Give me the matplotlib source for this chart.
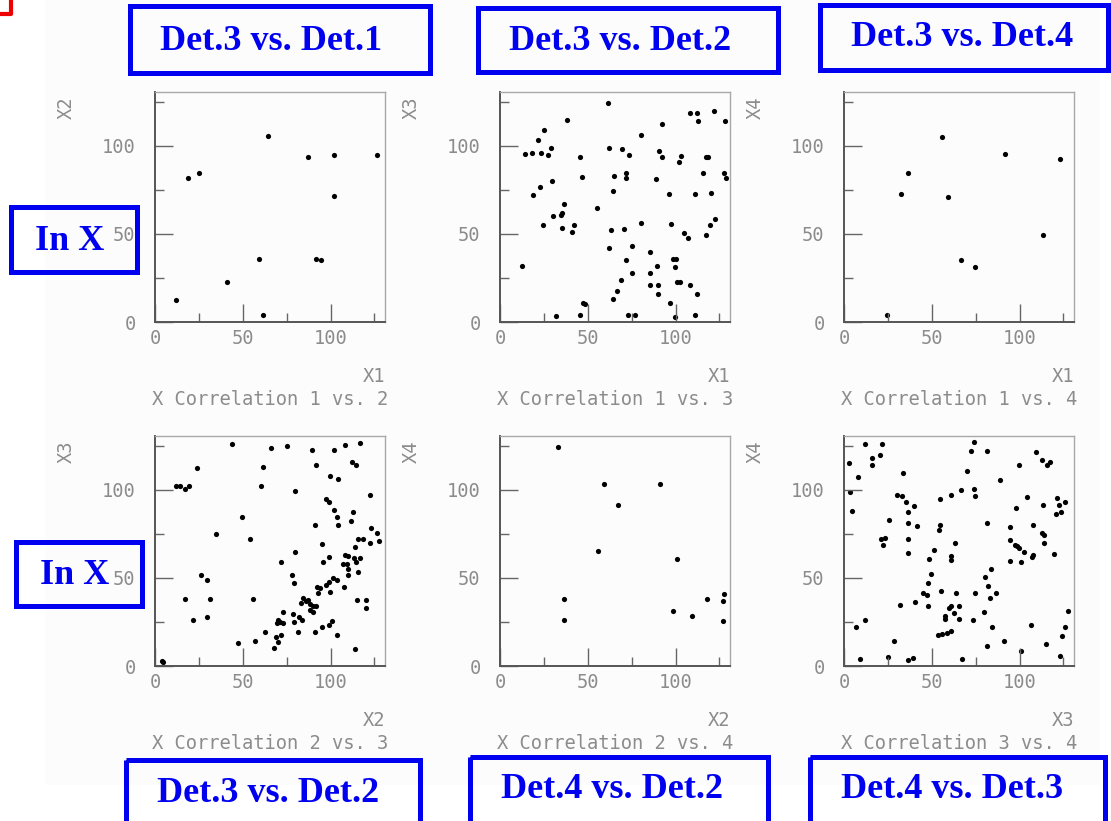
"""
X correlation scatter panels (ROOT-style) with blue detector-pair annotations.
"""

import matplotlib
matplotlib.use("Agg")
import matplotlib.pyplot as plt
from matplotlib.patches import Rectangle

# ---- data ----
p1_x = [12, 18.8, 24.9, 41, 59, 61.7, 64.5, 87.3, 91.8, 94.3, 102, 102, 126.4]
p1_y = [12.2, 81.6, 84.4, 22.7, 35.7, 4.1, 105.5, 93.8, 35.7, 35.2, 94.7, 71.4, 94.5]

p2_x = [61.6, 108.2, 112.4, 112.8, 121.8, 128.1, 38, 92, 80.3, 24.9, 21.4, 14, 18.5,
        23.1, 27.3, 29.3, 45.5, 61.8, 69.4, 73.6, 90.6, 92.2, 103, 102.1, 117.2, 118.5,
        29.4, 46.7, 64.8, 71.7, 71.9, 88.9, 115.7, 127.5, 128.5, 22.6, 18.7, 64.1, 96.4,
        111.3, 120.3, 36.3, 35.2, 34.6, 30.4, 55.4, 24.7, 35.2, 42.4, 41.1, 63.1, 70.6,
        80.3, 97.5, 104.6, 107.1, 117.4, 119.7, 122.4, 12.6, 62, 75.1, 85.7, 71.9, 98.5,
        100, 89.3, 99.6, 85.7, 75.3, 69, 85.7, 90.2, 101, 102.3, 108, 66.7, 64.6, 90.1,
        112.4, 96.6, 47.4, 48.2, 31.9, 45.7, 72.8, 76.7, 99.6, 111.3]
p2_y = [124, 118.4, 118.4, 114.3, 119.7, 113.9, 114.8, 112.4, 106.2, 108.8, 103.2, 95.1, 96,
        96, 94.9, 98.9, 93.4, 98.9, 97.9, 94.7, 97, 93.4, 94, 90.8, 93.6, 93.6,
        80, 82, 82.7, 84.6, 81.6, 81, 84.6, 84.6, 81.6, 76.5, 71.8, 74.1, 72.9,
        72.4, 73.3, 67.1, 62, 60.5, 60.2, 64.7, 55.3, 53.4, 55.1, 50.9, 52.3, 52.6,
        56, 55.6, 50.4, 47.6, 49.2, 55.3, 58.5, 31.8, 41.9, 43.4, 40, 35.2, 35.7,
        35.7, 31.8, 31.2, 27.8, 27.6, 23.9, 21.1, 21.1, 22.6, 22.6, 21.1, 17.5, 13.3, 15.8,
        15.8, 10.9, 10.9, 10.2, 3.2, 3.9, 3.9, 3.9, 2.8, 3.9]

p3_x = [55.6, 91.7, 123, 36.2, 32.6, 59.5, 113.6, 66.9, 74.4, 24.7]
p3_y = [105.1, 95.1, 92.7, 84.6, 72.9, 71.2, 49.2, 35, 31.4, 4.1]

p4_x = [44, 66.2, 75.3, 89.6, 102.1, 108.2, 116.7, 61.5, 91.5, 112, 114.4, 24.1, 12, 14.2,
        17.1, 19.5, 60.5, 79.9, 99.4, 104, 122.4, 97.5, 98.9, 102.1, 103.6, 112.5, 111.6,
        104, 91.3, 49.7, 34.7, 54.1, 123, 126.2, 127.3, 122.4, 118.6, 115.4, 113.7, 95.3,
        79.9, 71.9, 98.9, 95.6, 108.2, 109.9, 113.3, 116.9, 106.8, 109.3, 114.4, 110.1,
        110.2, 115.4, 78.2, 79.3, 101.1, 103.4, 99.1, 97.3, 92.4, 93.7, 92.6, 99.4, 107.4,
        26, 29.4, 17.3, 31.3, 56, 120.1, 115.2, 120, 84.4, 85.8, 87.1, 88.2, 90.1, 91.5,
        83.3, 88.2, 89.8, 72.7, 78.4, 82.2, 83.5, 79.3, 70, 71.2, 73, 69.3, 95.1, 98.9,
        100.9, 91.1, 81.4, 62.8, 103.4, 71.9, 68.9, 69.9, 67.9, 56.9, 47.1, 21.8, 29.4,
        114, 3.8, 4.7]
p4_y = [126, 123.6, 124.7, 122.8, 122.8, 125.5, 126.4, 113.1, 113.9, 115.8, 114.3, 112.4, 102.3, 102.3,
        100.4, 102.1, 102.1, 99.2, 108, 105.9, 97.1, 94.9, 92.8, 88.6, 84.8, 87.5, 82.3,
        79.8, 80, 84.8, 75.1, 72.2, 78.3, 75.7, 70.9, 70, 72.2, 71.9, 67.5, 69,
        64.8, 59.1, 61.8, 59.1, 62.7, 62.4, 61, 61, 58, 58, 59.1, 55.1,
        51.9, 53.2, 51.5, 47, 49.8, 48.7, 47.9, 45.8, 44.9, 44.1, 41.6, 42, 45.1,
        51.5, 48.7, 38.2, 37.8, 37.8, 37.6, 37.5, 33.1, 38.8, 36.7, 37.5, 35.2, 34.2, 33.8,
        35.5, 31.9, 30.4, 30.4, 29.5, 27.9, 26, 24.9, 25.9, 24.9, 24.3, 24.3, 22.4, 23.2,
        25.7, 19.2, 19.2, 19.2, 17.7, 17.7, 16.7, 13.5, 10.1, 14.3, 12.9, 25.9, 27.6,
        9.7, 3, 2.5]

p5_x = [33.1, 59.5, 91.4, 67.1, 55.9, 100.8, 36.3, 36.3, 98.5, 109.1, 118.1, 127, 127.8, 127]
p5_y = [124.1, 103.2, 103.2, 91.6, 65, 60.6, 38.2, 25.9, 31.4, 28.5, 38, 36.9, 41.1, 25.3]

p6_x = [11.9, 21.7, 2.6, 16, 16, 20.5, 7.9, 3.4, 4.3, 33.7, 74, 72.5, 81.7, 109.6, 113,
        115.4, 117.1, 99.4, 70.2, 89.1, 66.9, 74.2, 74.8, 61, 54.4, 30.1, 32.8, 35.4, 39.9,
        36.2, 25.6, 36.7, 41.4, 54.6, 54.1, 63.5, 36.2, 20.9, 23.5, 22.4, 36.2, 51, 48.6,
        61.2, 61, 81.5, 104.1, 97.7, 113.6, 121.1, 122.4, 125.8, 123.5, 120.7, 94.4, 107.7,
        113, 113.8, 114, 94.5, 97.6, 98.7, 99.8, 102.3, 107.7, 106.8, 119.6, 94.5, 100.6,
        49.3, 48, 44.8, 47.1, 47.8, 40.5, 32, 55, 63.8, 65.3, 60.9, 59.7, 62.7, 57.8, 57.8,
        65.3, 74.4, 73.6, 80.4, 83.6, 81.9, 83, 86.8, 80, 84.3, 81.7, 53.3, 55.6, 58.4, 61.2,
        91, 106.6, 115.3, 100.6, 127.3, 125.6, 124.3, 122.8, 6.8, 12.1, 28.2, 9.2, 24.9,
        36.5, 39.3, 67]
p6_y = [126, 125.7, 115, 117.9, 114.1, 119.8, 107.4, 98.9, 88, 109.3, 127, 121.9, 121.9, 121.3, 117.1,
        114.1, 115.6, 114.1, 110.5, 105.5, 99.6, 100.4, 96.2, 97.3, 94.5, 97.1, 96.4, 92.8, 90.5,
        87.1, 82.7, 81, 79.5, 79.8, 77.2, 69.6, 71.9, 71.9, 72.8, 68.4, 63.9, 65.6, 60.6,
        62.4, 60.1, 81.2, 95.8, 89.4, 91.6, 95.2, 91.3, 93.2, 87.1, 86.1, 79.1, 79.8,
        75.3, 74.3, 69.6, 71.3, 68.6, 68.1, 67.1, 64.6, 62.9, 62, 63.3, 59.3, 59.1,
        52.1, 47.1, 41.4, 40.1, 34.2, 36.5, 34.8, 42.8, 41.4, 34.2, 34.2, 32.9, 30, 28.1, 26.8,
        26.6, 41.4, 25.9, 50.4, 54.8, 45.6, 38.6, 41.4, 30.6, 21.9, 11.4, 17.7, 18.4, 19, 19.6,
        14.3, 23.4, 12.5, 8.7, 31.4, 22.1, 17.1, 5.7, 22.1, 26.2, 14.3, 3.8, 5.3,
        3.6, 4.4, 3.8]

panel_x = [p1_x, p2_x, p3_x, p4_x, p5_x, p6_x]
panel_y = [p1_y, p2_y, p3_y, p4_y, p5_y, p6_y]
x_names = ["X1", "X1", "X1", "X2", "X2", "X3"]
y_names = ["X2", "X3", "X4", "X3", "X4", "X4"]
titles = ["X Correlation 1 vs. 2", "X Correlation 1 vs. 3", "X Correlation 1 vs. 4",
          "X Correlation 2 vs. 3", "X Correlation 2 vs. 4", "X Correlation 3 vs. 4"]

top_labels = ["Det.3 vs. Det.1", "Det.3 vs. Det.2", "Det.3 vs. Det.4"]
bottom_labels = ["Det.3 vs. Det.2", "Det.4 vs. Det.2", "Det.4 vs. Det.3"]
side_labels = ["In X", "In X"]

# ---- layout in pixels ----
W, H = 1111, 821
fig = plt.figure(figsize=(W / 100, H / 100), dpi=100)

# faint canvas background like the ROOT pad
bg = fig.add_axes([0, 0, 1, 1], zorder=-5)
bg.set_xlim(0, W)
bg.set_ylim(H, 0)
bg.axis("off")
bg.add_patch(Rectangle((45, 0), 1055, 785, facecolor="#fcfcfc", edgecolor="none"))

col_left = [155, 500, 844]
row_top = [92, 436]
size = 230
gray_txt = "#8c8c8c"
mono = "DejaVu Sans Mono"

for i in range(6):
    r, c = divmod(i, 3)
    l, t = col_left[c], row_top[r]
    ax = fig.add_axes([l / W, 1 - (t + size) / H, size / W, size / H])
    ax.scatter(panel_x[i], panel_y[i], s=14, c="black", marker="o", linewidths=0)
    ax.set_xlim(0, 131)
    ax.set_ylim(0, 130.5)
    ax.set_facecolor("none")
    ax.set_xticks([0, 50, 100])
    ax.set_yticks([0, 50, 100])
    ax.set_xticks([25, 75, 125], minor=True)
    ax.set_yticks([25, 75, 125], minor=True)
    ax.tick_params(which="both", direction="in", colors="#666", labelcolor=gray_txt,
                   labelsize=13.5, width=1.0)
    for lab in ax.get_xticklabels() + ax.get_yticklabels():
        lab.set_family(mono)
    ax.tick_params(which="major", length=13)
    ax.tick_params(which="minor", length=6.5)
    ax.tick_params(axis="x", pad=5)
    ax.tick_params(axis="y", pad=14)
    for s in ["left", "bottom"]:
        ax.spines[s].set_color("#555")
        ax.spines[s].set_linewidth(1.4)
    for s in ["top", "right"]:
        ax.spines[s].set_color("#a8a8a8")
        ax.spines[s].set_linewidth(1.0)
    ax.text(1.0, -0.235, x_names[i], transform=ax.transAxes, ha="right", va="center",
            fontsize=13.5, color=gray_txt, family=mono)
    ax.text(-0.385, 0.93, y_names[i], transform=ax.transAxes, ha="center", va="center",
            rotation=90, fontsize=13.5, color=gray_txt, family=mono)
    ax.text(0.5, -0.335, titles[i], transform=ax.transAxes, ha="center", va="center",
            fontsize=13.5, color=gray_txt, family=mono)

# ---- blue annotation boxes ----
ov = fig.add_axes([0, 0, 1, 1], zorder=10)
ov.set_xlim(0, W)
ov.set_ylim(H, 0)
ov.axis("off")
blue = "#0000f0"

top_boxes = [(130, 6, 300, 67), (478, 8, 300, 64), (820, 5, 288, 65)]
bottom_boxes = [(126, 760, 294, 80), (470, 757, 298, 80), (810, 757, 295, 80)]
side_boxes = [(11, 207, 126, 65), (16, 542, 126, 64)]

top_txt_pos = [(271, 41), (620, 41), (962, 38)]
bottom_txt_pos = [(268, 794), (612, 790), (952, 790)]
side_txt_pos = [(70, 241), (75, 575)]

for boxes, labels, pos in [(top_boxes, top_labels, top_txt_pos),
                           (bottom_boxes, bottom_labels, bottom_txt_pos),
                           (side_boxes, side_labels, side_txt_pos)]:
    for (bx, by, bw, bh), lab, (tx, ty) in zip(boxes, labels, pos):
        ov.add_patch(Rectangle((bx, by), bw, bh, fill=False, edgecolor=blue, linewidth=3.6))
        ov.text(tx, ty, lab, ha="center", va="center", fontsize=26, fontweight="bold",
                family="Liberation Serif", color=blue)

# red corner mark top-left
ov.plot([0, 11, 11], [14, 14, 0], color="#ee0000", linewidth=3, solid_capstyle="butt")

fig.savefig("out.png", dpi=100)
